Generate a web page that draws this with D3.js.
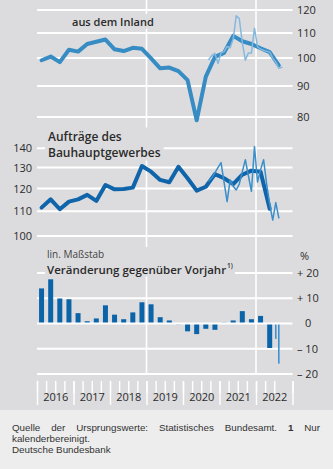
<!DOCTYPE html>
<html>
<head>
<meta charset="utf-8">
<script src="https://cdn.jsdelivr.net/npm/d3@7"></script>
<style>
  body { margin: 0; width: 333px; height: 469px; overflow: hidden; background: #fff; font-family: "Open Sans", sans-serif; }
  svg { display: block; }
</style>
</head>
<body>
<svg id="chart" width="333" height="469"></svg>
<script>
// quarterly periods
const quarters = ["2016Q1","2016Q2","2016Q3","2016Q4","2017Q1","2017Q2","2017Q3","2017Q4",
  "2018Q1","2018Q2","2018Q3","2018Q4","2019Q1","2019Q2","2019Q3","2019Q4",
  "2020Q1","2020Q2","2020Q3","2020Q4","2021Q1","2021Q2","2021Q3","2021Q4",
  "2022Q1","2022Q2","2022Q3"];
// monthly periods
const months = ["2020-09","2020-10","2020-11","2020-12","2021-01","2021-02","2021-03","2021-04",
  "2021-05","2021-06","2021-07","2021-08","2021-09","2021-10","2021-11","2021-12",
  "2022-01","2022-02","2022-03","2022-04","2022-05","2022-06","2022-07","2022-08","2022-09"];

// orders from domestic customers, 2015 = 100, log scale
const inlandQ = [99.2, 100.6, 98.5, 103.2, 102.5, 105.5, 106.4, 107.3, 103.4, 102.7, 104.0, 103.6,
  99.9, 96.2, 96.5, 95.2, 92.0, 79.0, 93.2, 100.5, 102.0, 108.8, 106.6, 105.5, 103.8, 102.3, 97.3];
const inlandM = [99.5, 101.0, 101.8, 98.0, 102.0, 102.5, 104.5, 104.0, 107.5, 117.4, 116.2, 106.0,
  99.2, 102.0, 102.0, 112.0, 104.4, 103.4, 103.0, 102.6, 102.3, 100.0, 98.5, 96.2, 96.6];

// orders in main construction industry
const bauQ = [111.5, 115.1, 110.8, 114.1, 115.1, 117.1, 114.4, 121.6, 119.6, 119.8, 120.4, 130.8,
  128.0, 124.0, 122.9, 130.4, 124.8, 119.0, 120.8, 126.8, 124.8, 122.0, 126.5, 128.5, 128.0, 111.0];
const bauM = [123.5, 125.0, 127.5, 130.0, 132.5, 123.0, 114.1, 124.0, 121.0, 119.3, 122.0, 128.0,
  134.0, 126.0, 118.7, 141.0, 123.0, 129.0, 134.0, 122.0, 113.0, 106.3, 113.7, 107.2];

// year-on-year change in %
const changeQ = [13.9, 17.5, 9.9, 9.6, 4.1, 0.9, 2.0, 7.2, 3.5, 1.7, 4.4, 8.4, 7.6, 2.5, 1.2, -0.3,
  -3.1, -4.2, -2.1, -2.5, 0.3, 1.2, 4.9, 1.7, 3.0, -9.7];
const changeMonths = ["2022-07", "2022-08"];
const changeM = [-6.1, -15.9];

const topTicks = [80, 90, 100, 110, 120];
const midTicks = [100, 110, 120, 130, 140];
const barTicks = [-20, -10, 0, 10, 20];
const years = [2016, 2017, 2018, 2019, 2020, 2021, 2022];

const qTime = q => +q.slice(0, 4) + (+q.slice(5) - 1) / 4 + 0.125;
const mTime = m => +m.slice(0, 4) + (+m.slice(5) - 1) / 12 + 1 / 24;

const bg = "#dcdcde", txt = "#2b2b2b";
const svg = d3.select("#chart");

const x = d3.scaleLinear().domain([2016, 2023]).range([37, 292.5]);
const yTop = d3.scaleLog().domain([80, 120]).range([117, 10]);
const yMid = d3.scaleLog().domain([100, 140]).range([236, 148.3]);
const yBar = d3.scaleLinear().domain([-20, 20]).range([374, 273]);

svg.append("rect").attr("width", 333).attr("height", 410).attr("fill", bg);
svg.append("rect").attr("y", 410).attr("width", 333).attr("height", 59).attr("fill", "#ededed");

// horizontal grid
function hGrid(scale, ticks) {
  svg.append("g").selectAll("line").data(ticks).join("line")
    .attr("x1", x(2016)).attr("x2", x(2023))
    .attr("y1", d => scale(d)).attr("y2", d => scale(d))
    .attr("stroke", "#fff").attr("stroke-width", 2);
}
hGrid(yTop, topTicks);
hGrid(yMid, midTicks);
hGrid(yBar, barTicks.filter(d => d != 0));

// vertical grid
svg.append("g").selectAll("line").data([2019, 2022]).join("line")
  .attr("x1", d => x(d)).attr("x2", d => x(d))
  .attr("y1", 0).attr("y2", yBar(-20))
  .attr("stroke", "#fff").attr("stroke-width", 1.6);

// titles with a background box hiding the grid
function title(lines, tx, pad) {
  const g = svg.append("g");
  const box = g.append("rect").attr("fill", bg);
  lines.forEach(l => {
    const t = g.append("text").attr("x", tx).attr("y", l.y)
      .attr("font-size", l.size).attr("font-weight", l.weight || 600)
      .attr("fill", l.color || txt).text(l.text);
    if (l.sup) t.append("tspan").attr("font-size", 6.5).attr("dy", -6).attr("dx", 1).text(l.sup);
  });
  const b = g.node().getBBox();
  box.attr("x", b.x - pad).attr("y", b.y).attr("width", b.width + pad * 2).attr("height", b.height);
}
title([{ text: "aus dem Inland", y: 26, size: 11 }], 72, 2);
title([{ text: "Aufträge des", y: 140.5, size: 12 },
       { text: "Bauhauptgewerbes", y: 156.5, size: 12 }], 48, 3);
title([{ text: "lin. Maßstab", y: 258, size: 10, weight: 400, color: "#444" },
       { text: "Veränderung gegenüber Vorjahr", y: 273.5, size: 11.5, sup: "1)" }], 47, 2);

// y axes
const ax1 = svg.append("g").attr("transform", "translate(297,0)")
  .call(d3.axisRight(yTop).tickValues(topTicks).tickSize(0).tickPadding(0).tickFormat(d3.format("d")));
const ax2 = svg.append("g").attr("transform", "translate(32,0)")
  .call(d3.axisLeft(yMid).tickValues(midTicks).tickSize(0).tickPadding(0).tickFormat(d3.format("d")));
[ax1, ax2].forEach(a => {
  a.select(".domain").remove();
  a.attr("font-family", null).attr("font-size", 11).selectAll("text").attr("fill", txt);
});
// percent axis labels
const pctFmt = d => d > 0 ? "+ " + d : d < 0 ? "\u2013 " + (-d) : "0";
svg.append("g").attr("font-size", 11).attr("fill", txt)
  .selectAll("text").data(barTicks).join("text")
  .attr("x", d => d == 0 ? 305 : 297)
  .attr("y", d => yBar(d)).attr("dy", "0.35em")
  .text(pctFmt);
svg.append("text").attr("x", 300).attr("y", 260).attr("font-size", 11).attr("fill", txt).text("%");

// x axis: quarter ticks, year ticks, year labels
function xAxis(vals, size, fmt) {
  const a = svg.append("g").attr("transform", "translate(0,381)")
    .call(d3.axisBottom(x).tickValues(vals).tickSize(size).tickPadding(3).tickFormat(fmt));
  a.select(".domain").remove();
  a.selectAll("line").attr("stroke", "#fff").attr("stroke-width", 1.4);
  a.attr("font-family", null).attr("font-size", 11).selectAll("text").attr("fill", txt);
  return a;
}
xAxis(quarters.map(qTime).map(t => t - 0.125).concat([2023]), 12, "");
xAxis(years.concat([2023]), 24, "");
xAxis(years.map(y => y + 0.5), 0, d => Math.floor(d)).attr("transform", "translate(0,390)");

// lines
function drawLine(times, vals, scale, color, w) {
  const pts = times.map((t, i) => ({ t: t, v: vals[i] }));
  svg.append("path").datum(pts)
    .attr("d", d3.line().x(d => x(d.t)).y(d => scale(d.v)))
    .attr("fill", "none").attr("stroke", color).attr("stroke-width", w)
    .attr("stroke-linejoin", "round").attr("stroke-linecap", "round");
}
drawLine(quarters.map(qTime), inlandQ, yTop, "#378cc4", 4);
drawLine(months.map(mTime), inlandM, yTop, "#85b8df", 1.5);
drawLine(quarters.slice(0, bauQ.length).map(qTime), bauQ, yMid, "#0f64aa", 4);
drawLine(months.slice(0, bauM.length).map(mTime), bauM, yMid, "#3a8fcb", 1.5);

// bars
function bars(times, vals, w, color) {
  svg.append("g").selectAll("rect").data(vals).join("rect")
    .attr("x", (d, i) => x(times[i]) - w / 2).attr("width", w)
    .attr("y", d => yBar(Math.max(0, d)))
    .attr("height", d => Math.abs(yBar(d) - yBar(0)))
    .attr("fill", color);
}
bars(quarters.slice(0, changeQ.length).map(qTime), changeQ, 5, "#0b63a8");
bars(changeMonths.map(mTime), changeM, 1.6, "#3f92ce");

// zero line on top of bars
hGrid(yBar, [0]);

// source note, first line justified to the note width
const note = svg.append("g").attr("font-size", 9.8).attr("font-family", "Liberation Sans, Arial, sans-serif").attr("fill", "#333");
const l1 = note.append("text").attr("x", 12).attr("y", 431);
l1.append("tspan").text("Quelle der Ursprungswerte: Statistisches Bundesamt. ");
l1.append("tspan").attr("font-weight", 700).text("1");
l1.append("tspan").text(" Nur");
const spaces = 6, free = 308 - l1.node().getComputedTextLength();
l1.attr("word-spacing", free / spaces);
note.append("text").attr("x", 12).attr("y", 442).text("kalenderbereinigt.");
note.append("text").attr("x", 12).attr("y", 453).text("Deutsche Bundesbank");
</script>
</body>
</html>
